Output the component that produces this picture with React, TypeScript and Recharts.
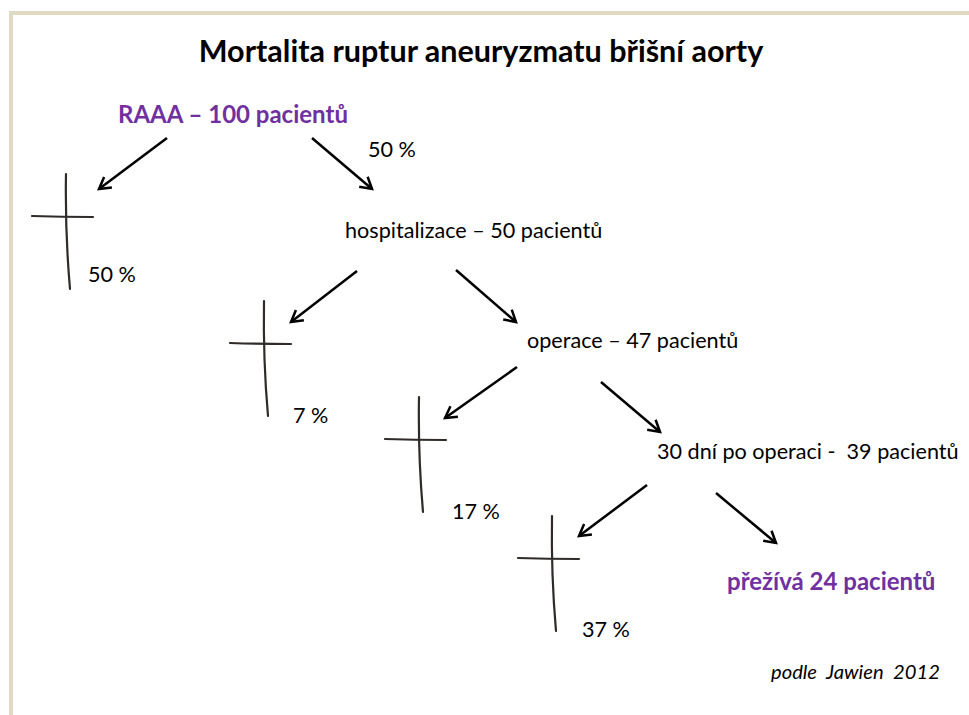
import React from "react";
import { ScatterChart, Scatter, XAxis, YAxis } from "recharts";

// ---- data ----
const titleText = ["Mortalita ruptur aneuryzmatu břišní aorty"];
const titleX = [481];
const titleY = [62];

const nodeLabels = [
  "RAAA – 100 pacientů",
  "hospitalizace – 50 pacientů",
  "operace – 47 pacientů",
  "30 dní po operaci -  39 pacientů",
  "přežívá 24 pacientů",
];
const nodeKinds = ["emph", "normal", "normal", "normal", "emph"];
const nodeX = [118, 345, 527, 657, 727];
const nodeY = [123, 238, 348, 459, 590];

const percentLabels = ["50 %", "50 %", "7 %", "17 %", "37 %"];
const percentX = [368, 88, 293, 452, 582];
const percentY = [157, 282, 423, 519, 637];

const sourceText = ["podle  Jawien  2012"];
const sourceX = [771];
const sourceY = [679];

const crossX = [67, 265, 420, 553];
const crossY = [217, 344, 440, 559];

const arrowFromX = [167, 312, 357, 456, 517, 601, 647, 716];
const arrowFromY = [138, 138, 271, 270, 367, 382, 485, 493];
const arrowToX = [99, 372, 291, 516, 445, 660, 579, 776];
const arrowToY = [189, 189, 322, 322, 418, 432, 536, 543];

// ---- derived tables ----
const labelRows = [
  ...titleText.map((t, i) => ({ text: t, x: titleX[i], y: titleY[i], kind: "title" })),
  ...nodeLabels.map((t, i) => ({ text: t, x: nodeX[i], y: nodeY[i], kind: nodeKinds[i] })),
  ...percentLabels.map((t, i) => ({ text: t, x: percentX[i], y: percentY[i], kind: "normal" })),
  ...sourceText.map((t, i) => ({ text: t, x: sourceX[i], y: sourceY[i], kind: "note" })),
];

const crossRows = crossX.map((x, i) => ({ x, y: crossY[i] }));

const arrowRows = arrowFromX.map((x, i) => [
  { x, y: arrowFromY[i], head: false, dx: 0, dy: 0 },
  {
    x: arrowToX[i],
    y: arrowToY[i],
    head: true,
    dx: arrowToX[i] - x,
    dy: arrowToY[i] - arrowFromY[i],
  },
]);

// ---- styles ----
const FONT = "Lato, 'Open Sans', sans-serif";
const labelStyles: Record<string, any> = {
  title: { fontSize: 30.5, fontWeight: 700, fill: "#000", anchor: "middle", fontStyle: "normal" },
  emph: { fontSize: 24, fontWeight: 700, fill: "#7030A0", anchor: "start", fontStyle: "normal" },
  normal: { fontSize: 21.6, fontWeight: 400, fill: "#000", anchor: "start", fontStyle: "normal" },
  note: { fontSize: 20.2, fontWeight: 400, fill: "#000", anchor: "start", fontStyle: "italic" },
};

const LabelShape = (props: any) => {
  const { cx, cy, payload } = props;
  const st = labelStyles[payload.kind];
  return (
    <text
      x={cx}
      y={cy}
      fontFamily={FONT}
      fontSize={st.fontSize}
      fontWeight={st.fontWeight}
      fontStyle={st.fontStyle}
      fill={st.fill}
      textAnchor={st.anchor}
      style={{ whiteSpace: "pre" }}
    >
      {payload.text}
    </text>
  );
};

const CrossShape = (props: any) => {
  const { cx, cy } = props;
  const v = `M ${cx - 1} ${cy - 43} Q ${cx - 2} ${cy + 15} ${cx + 3} ${cy + 72}`;
  const h = `M ${cx - 35} ${cy - 1} Q ${cx - 5} ${cy} ${cx + 26} ${cy}`;
  return (
    <g>
      <path d={v} stroke="#2e2b28" strokeWidth={2.2} fill="none" strokeLinecap="round" />
      <path d={h} stroke="#2e2b28" strokeWidth={2.2} fill="none" strokeLinecap="round" />
    </g>
  );
};

const ArrowHeadShape = (props: any) => {
  const { cx, cy, payload } = props;
  if (!payload || !payload.head) return <g />;
  const ang = Math.atan2(payload.dy, payload.dx);
  const len = 13;
  const spread = Math.PI / 6;
  const x1 = cx - len * Math.cos(ang - spread);
  const y1 = cy - len * Math.sin(ang - spread);
  const x2 = cx - len * Math.cos(ang + spread);
  const y2 = cy - len * Math.sin(ang + spread);
  return (
    <path
      d={`M ${x1} ${y1} L ${cx} ${cy} L ${x2} ${y2}`}
      stroke="#000"
      strokeWidth={2.5}
      fill="none"
      strokeLinejoin="miter"
    />
  );
};

export default function App() {
  return (
    <div style={{ position: "absolute", left: 0, top: 0, width: 969, height: 715, background: "#fff", overflow: "hidden" }}>
      <div
        style={{
          position: "absolute",
          left: 9,
          top: 11,
          width: 969,
          height: 715,
          borderTop: "4px solid #DDD9C3",
          borderLeft: "4px solid #DDD9C3",
        }}
      />
      <div style={{ position: "absolute", left: 0, top: 0 }}>
        <ScatterChart width={969} height={715} margin={{ top: 0, right: 0, bottom: 0, left: 0 }}>
          <XAxis type="number" dataKey="x" domain={[0, 969]} hide />
          <YAxis type="number" dataKey="y" domain={[0, 715]} reversed hide />
          {arrowRows.map((rows, i) => (
            <Scatter
              key={`arrow-${i}`}
              data={rows}
              line={{ stroke: "#000", strokeWidth: 2.5 }}
              lineType="joint"
              shape={ArrowHeadShape}
              isAnimationActive={false}
              legendType="none"
            />
          ))}
          <Scatter data={crossRows} shape={CrossShape} isAnimationActive={false} legendType="none" />
          <Scatter data={labelRows} shape={LabelShape} isAnimationActive={false} legendType="none" />
        </ScatterChart>
      </div>
    </div>
  );
}
